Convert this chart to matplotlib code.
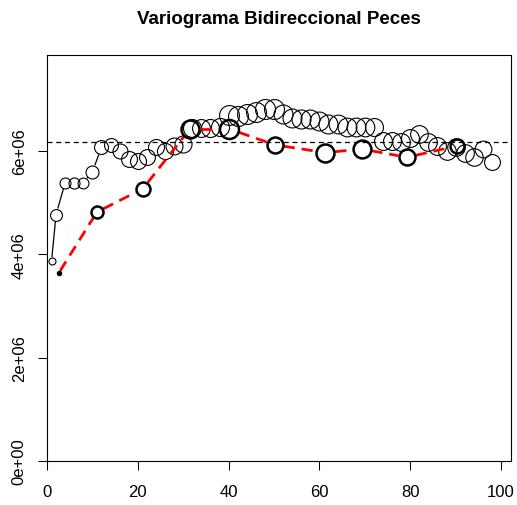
import numpy as np
import matplotlib.pyplot as plt

plt.rcParams['font.family'] = ['Liberation Sans', 'DejaVu Sans']

# semivariograma empírico, línea negra
dist = [1, 2, 4, 6, 8, 10, 12, 14, 16, 18, 20, 22, 24, 26, 28, 30,
        32, 34, 36, 38, 40, 42, 44, 46, 48, 50, 52, 54, 56, 58, 60,
        62, 64, 66, 68, 70, 72, 74, 76, 78, 80, 82, 84, 86, 88, 90,
        92, 94, 96, 98]
gamma = [3.87, 4.77, 5.39, 5.39, 5.39, 5.60, 6.07, 6.12, 6.01, 5.84,
         5.81, 5.88, 6.07, 6.01, 6.10, 6.13, 6.45, 6.45, 6.45, 6.46,
         6.70, 6.68, 6.72, 6.75, 6.81, 6.81, 6.72, 6.65, 6.63, 6.62,
         6.59, 6.52, 6.52, 6.46, 6.46, 6.46, 6.46, 6.20, 6.20, 6.17,
         6.26, 6.33, 6.17, 6.10, 6.01, 6.07, 5.97, 5.88, 6.04, 5.78]
pares = [420, 715, 660, 668, 655, 781, 840, 838, 902, 958, 961, 955,
         966, 970, 1018, 1025, 1080, 1077, 1083, 1089, 1196, 1202, 1199,
         1195, 1205, 1200, 1142, 1138, 1145, 1139, 1136, 1141, 1130, 1127,
         1133, 1124, 1082, 1076, 1079, 1070, 1074, 1068, 1066, 1072, 1061,
         1058, 1063, 1055, 1012, 958]

# semivariograma por clases de distancia, línea roja
dist_b = [2.6, 11.0, 21.1, 31.5, 40.1, 50.2, 61.3, 69.3, 79.3, 90.3]
gamma_b = [3.64, 4.82, 5.27, 6.43, 6.43, 6.12, 5.97, 6.04, 5.88, 6.10]
pares_b = [680, 2710, 3150, 4050, 4290, 3600, 4060, 4030, 3610, 3150]

meseta = 6.17e6

gamma = np.array(gamma) * 1e6
gamma_b = np.array(gamma_b) * 1e6

DPI = 100
fig = plt.figure(figsize=(5.17, 5.06), dpi=DPI)
ax = fig.add_axes([0.0909, 0.087, 0.8975, 0.8023])
ax.set_xlim(0, 102.2)
ax.set_ylim(0, 7.86e6)


def diametros(p, dmax):
    p = np.asarray(p, dtype=float)
    return dmax * p / p.max()


def linea_con_huecos(x, y, d_px, **kw):
    # une los puntos dejando un hueco del tamaño de cada círculo (como type="b")
    pts = ax.transData.transform(np.column_stack([x, y]))
    inv = ax.transData.inverted()
    for i in range(len(pts) - 1):
        p0, p1 = pts[i], pts[i + 1]
        v = p1 - p0
        L = np.hypot(*v)
        r0, r1 = d_px[i] / 2 + 1, d_px[i + 1] / 2 + 1
        if L <= r0 + r1:
            continue
        a = p0 + v / L * r0
        b = p1 - v / L * r1
        seg = inv.transform(np.array([a, b]))
        ax.plot(seg[:, 0], seg[:, 1], **kw)


px2pt = 72 / DPI

d1 = diametros(pares, 20)
d2 = diametros(pares_b, 19)

ax.axhline(meseta, color='black', lw=0.9, ls=(0, (4, 3)), zorder=1)

linea_con_huecos(dist, gamma, d1, color='black', lw=0.9, zorder=2)
for xi, yi, di in zip(dist, gamma, d1):
    ax.plot(xi, yi, 'o', ms=di * px2pt, mfc='none', mec='black', mew=0.8, zorder=3)

linea_con_huecos(dist_b, gamma_b, d2, color='red', lw=2.0, ls=(0, (4, 2.5)), zorder=4)
for xi, yi, di in zip(dist_b, gamma_b, d2):
    ax.plot(xi, yi, 'o', ms=di * px2pt, mfc='none', mec='black', mew=1.8, zorder=5)

ax.set_xticks([0, 20, 40, 60, 80, 100])
ax.set_yticks([0, 2e6, 4e6, 6e6])
ax.set_yticklabels(['0e+00', '2e+06', '4e+06', '6e+06'], rotation=90, va='center')
ax.tick_params(axis='both', labelsize=12, length=6.5, width=0.75, direction='out')
ax.tick_params(axis='x', pad=10)
ax.tick_params(axis='y', pad=8)
for s in ax.spines.values():
    s.set_linewidth(0.8)

fig.suptitle('Variograma Bidireccional Peces', fontsize=13.5, fontweight='bold',
             x=0.54, y=0.978)

fig.savefig('out.png', dpi=DPI)
